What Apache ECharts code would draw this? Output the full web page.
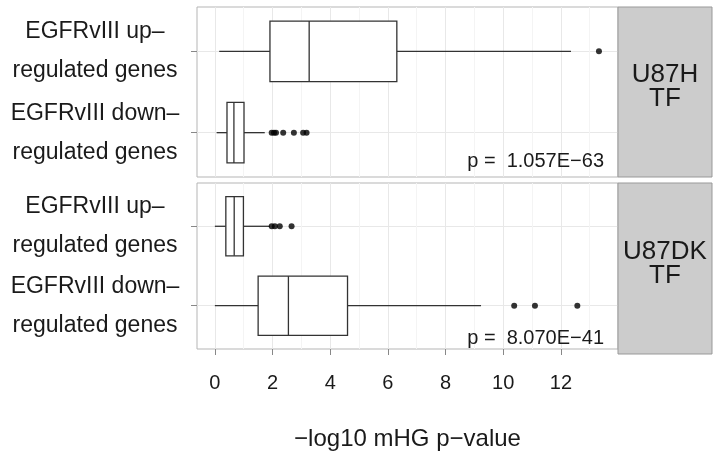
<!DOCTYPE html>
<html lang="en">
  <head>
    <meta charset="UTF-8" />
    <title>mHG boxplots</title>
    <script src="https://cdn.jsdelivr.net/npm/echarts@6.0.0/dist/echarts.min.js"></script>
    <style>
      html, body { margin: 0; padding: 0; background: #fff; }
      #main { width: 713px; height: 452px; }
    </style>
  </head>
  <body>
    <div id="main"></div>
    <script>
      const categories = ['EGFRvIII up–\nregulated genes', 'EGFRvIII down–\nregulated genes']
      const panelNames = ['U87H\nTF', 'U87DK\nTF']
      const pValues = ['p =  1.057E−63', 'p =  8.070E−41']
      // [min, Q1, median, Q3, max] per category (up, down)
      const boxesH = [[0.15, 1.91, 3.27, 6.31, 12.35], [0.06, 0.42, 0.66, 1.01, 1.73]]
      const outliersH = [[13.32], [1.97, 2.05, 2.12, 2.37, 2.74, 3.06, 3.18]]
      const boxesDK = [[0.0, 0.38, 0.67, 0.99, 1.91], [0.0, 1.5, 2.55, 4.6, 9.23]]
      const outliersDK = [[1.97, 2.08, 2.25, 2.66], [10.38, 11.1, 12.57]]
      const xTicks = [0, 2, 4, 6, 8, 10, 12]
      const xMinor = [1, 3, 5, 7, 9, 11, 13]
      const catIndex = [0, 1]

      const font = 'Liberation Sans, Arial, Helvetica, sans-serif'
      const xMin = -0.62
      const xMax = 13.98
      const panels = [
        { boxes: boxesH, outliers: outliersH, top: 7, height: 170 },
        { boxes: boxesDK, outliers: outliersDK, top: 183, height: 171 },
      ]
      const left = 197
      const width = 421

      const grid = []
      const xAxis = []
      const yAxis = []
      const series = []
      const graphic = []

      panels.forEach((p, i) => {
        const bottom = i === panels.length - 1
        grid.push({ left, top: p.top, width, height: p.height, show: true, borderColor: '#b5b5b5', borderWidth: 1 })
        // major axis
        xAxis.push({
          type: 'value', gridIndex: i, min: xMin, max: xMax,
          axisLine: { show: false, onZero: false },
          axisTick: { show: bottom, customValues: xTicks, length: 6, lineStyle: { color: '#888' } },
          axisLabel: { show: bottom, customValues: xTicks, fontSize: 20, color: '#1a1a1a', fontFamily: font, margin: 24 },
          splitLine: { show: true, lineStyle: { color: '#e8e8e8', width: 1 } },
          name: bottom ? '−log10 mHG p−value' : '',
          nameLocation: 'middle', nameGap: 78,
          nameTextStyle: { fontSize: 24, color: '#1a1a1a', fontFamily: font },
        })
        // minor grid lines
        xAxis.push({
          type: 'value', gridIndex: i, min: xMin, max: xMax, position: 'bottom',
          axisLine: { show: false, onZero: false },
          axisTick: { show: false, customValues: xMinor },
          axisLabel: { show: false, customValues: xMinor },
          splitLine: { show: true, lineStyle: { color: '#f4f4f4', width: 1 } },
        })
        // discrete axis: category index 0..1 with ggplot-like expansion
        yAxis.push({
          type: 'value', gridIndex: i, min: -0.545, max: 1.545, inverse: true, position: 'left',
          axisLine: { show: false, onZero: false },
          axisTick: { show: true, customValues: catIndex, length: 6, lineStyle: { color: '#888' } },
          axisLabel: {
            customValues: catIndex, formatter: (v) => categories[Math.round(v)],
            fontSize: 23, lineHeight: 39, color: '#1a1a1a', fontFamily: font, align: 'center', margin: 102,
          },
          splitLine: { show: true, lineStyle: { color: '#e8e8e8', width: 1 } },
        })

        series.push({
          type: 'custom', xAxisIndex: 2 * i, yAxisIndex: i, silent: true,
          data: p.boxes.map((b, k) => [catIndex[k]].concat(b)),
          encode: { y: 0, x: [1, 2, 3, 4, 5] },
          renderItem: function (params, api) {
            const c = api.value(0)
            const pMin = api.coord([api.value(1), c])
            const pQ1 = api.coord([api.value(2), c])
            const pMed = api.coord([api.value(3), c])
            const pQ3 = api.coord([api.value(4), c])
            const pMax = api.coord([api.value(5), c])
            const h = api.size([0, 0.745])[1]
            const y = pMed[1]
            const st = { stroke: '#333', lineWidth: 1.3, fill: '#fff' }
            return {
              type: 'group',
              children: [
                { type: 'line', shape: { x1: pMin[0], y1: y, x2: pQ1[0], y2: y }, style: st },
                { type: 'line', shape: { x1: pQ3[0], y1: y, x2: pMax[0], y2: y }, style: st },
                { type: 'rect', shape: { x: pQ1[0], y: y - h / 2, width: pQ3[0] - pQ1[0], height: h }, style: st },
                { type: 'line', shape: { x1: pMed[0], y1: y - h / 2, x2: pMed[0], y2: y + h / 2 }, style: st },
              ],
            }
          },
        })
        const pts = []
        p.outliers.forEach((arr, k) => arr.forEach((v) => pts.push([v, catIndex[k]])))
        series.push({
          type: 'scatter', xAxisIndex: 2 * i, yAxisIndex: i, silent: true,
          data: pts, symbolSize: 6, itemStyle: { color: '#000' },
        })

        // facet strip
        graphic.push({
          type: 'rect', z: 100, shape: { x: left + width, y: p.top, width: 94, height: p.height },
          style: { fill: '#cccccc', stroke: '#999', lineWidth: 1 },
        })
        graphic.push({
          type: 'text', z: 101, x: left + width + 47, y: p.top + p.height / 2 - 5,
          style: { text: panelNames[i], fill: '#1a1a1a', font: '26px ' + font, align: 'center', verticalAlign: 'middle', lineHeight: 24 },
        })
        graphic.push({
          type: 'text', z: 101, x: 604, y: p.top + p.height - 6,
          style: { text: pValues[i], fill: '#1a1a1a', font: '20px ' + font, align: 'right', verticalAlign: 'bottom' },
        })
      })

      const myChart = echarts.init(document.getElementById('main'))
      myChart.setOption({ animation: false, grid, xAxis, yAxis, series, graphic })
    </script>
  </body>
</html>
